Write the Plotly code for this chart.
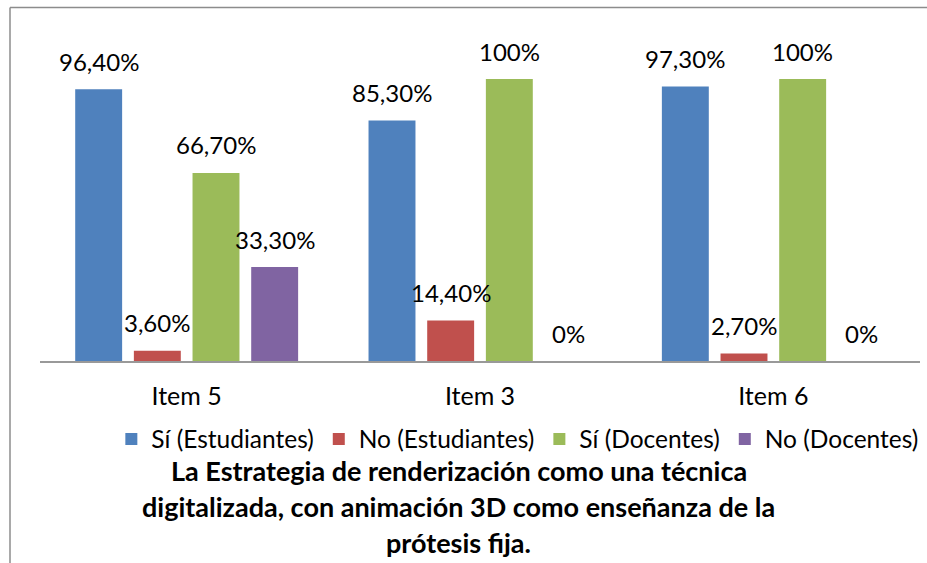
import plotly.graph_objects as go

categories = ["Item 5", "Item 3", "Item 6"]
series_names = ["Sí (Estudiantes)", "No (Estudiantes)", "Sí (Docentes)", "No (Docentes)"]
si_estudiantes = [96.4, 85.3, 97.3]
no_estudiantes = [3.6, 14.4, 2.7]
si_docentes = [66.7, 100, 100]
no_docentes = [33.3, 0, 0]
value_labels = [
    ["96,40%", "85,30%", "97,30%"],
    ["3,60%", "14,40%", "2,70%"],
    ["66,70%", "100%", "100%"],
    ["33,30%", "0%", "0%"],
]
colors = ["#4f81bd", "#c0504d", "#9bbb59", "#8064a2"]
title_lines = [
    "La Estrategia de renderización como una técnica",
    "digitalizada, con animación 3D como enseñanza de la",
    "prótesis fija.",
]

FONT = "Lato"
series = [si_estudiantes, no_estudiantes, si_docentes, no_docentes]

fig = go.Figure()
for name, vals, col in zip(series_names, series, colors):
    fig.add_trace(go.Bar(x=categories, y=vals, name=name, marker_color=col,
                         marker_line_width=0, hoverinfo="skip"))

# data labels above each bar
slot = 880 / 3 * 0.8 / 4
for i, (vals, labels) in enumerate(zip(series, value_labels)):
    for cat, v, lab in zip(categories, vals, labels):
        fig.add_annotation(x=cat, y=v, text=lab, showarrow=False,
                           xshift=(i - 1.5) * slot, yshift=28, yanchor="middle",
                           font=dict(family=FONT, size=24, color="#000"))

for k, line in enumerate(title_lines):
    fig.add_annotation(xref="paper", yref="paper", x=0.476, y=(361 - 470 - 36 * k) / 331,
                       text="<b>" + line + "</b>", showarrow=False, yanchor="middle",
                       font=dict(family=FONT, size=27, color="#000"))

# chart border (partly cut off on right/bottom)
fig.add_shape(type="line", xref="paper", yref="paper", x0=-30 / 880, x1=1.2,
              y0=353.5 / 331, y1=353.5 / 331, line=dict(color="#8c8c8c", width=1.5))
fig.add_shape(type="line", xref="paper", yref="paper", x0=-30 / 880, x1=-30 / 880,
              y0=353.5 / 331, y1=-1.0, line=dict(color="#8c8c8c", width=1.5))

fig.update_layout(
    width=927, height=563,
    margin=dict(l=40, r=7, t=30, b=202, autoexpand=False),
    barmode="group", bargap=0.2, bargroupgap=0.2,
    plot_bgcolor="white", paper_bgcolor="white",
    font=dict(family=FONT, size=24, color="#000"),
    legend=dict(orientation="h", x=0.543, xanchor="center", y=(361 - 439) / 331,
                yanchor="middle", font=dict(size=24.5), itemclick=False),
    xaxis=dict(showline=True, linecolor="#999", linewidth=2, ticks="",
               ticklabelstandoff=12, tickfont=dict(size=25)),
    yaxis=dict(visible=False, range=[0, 331 / 2.82], showgrid=False),
)

fig.write_html("out.html", config={"displayModeBar": False},
               post_script="document.body.style.margin='0';")
